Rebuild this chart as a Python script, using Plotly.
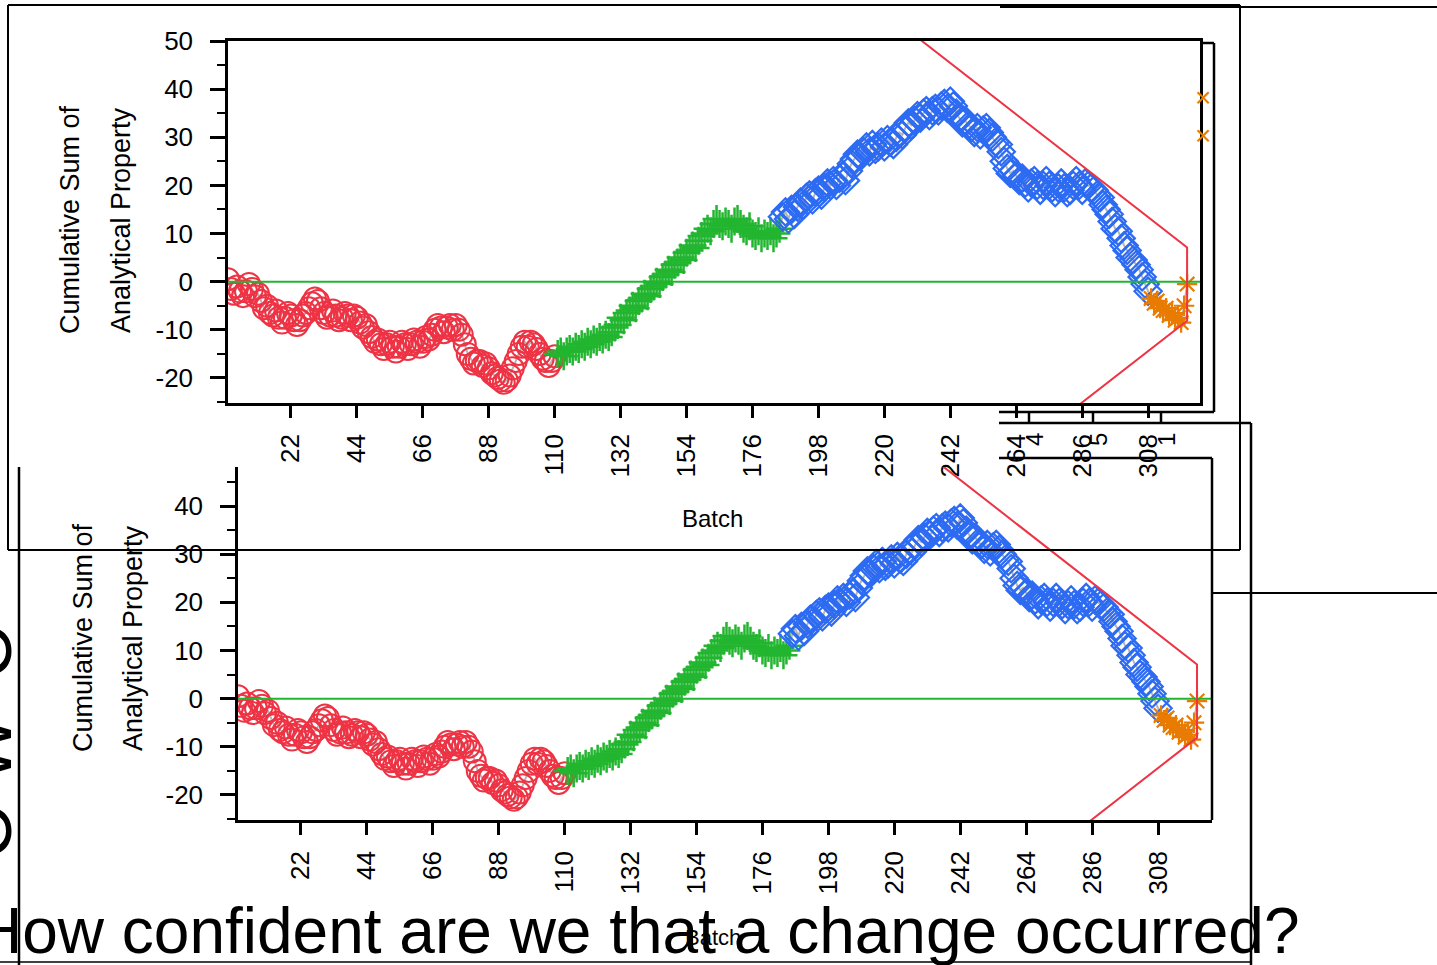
import plotly.graph_objects as go

W, H = 1437, 965
FONT = "Liberation Sans, Arial, sans-serif"

# ---------------- data ----------------
batch_red = list(range(1, 111))
cusum_red = [0.5, -1.5, -2.5, -1.0, -2.0, -3.0, -2.0, -0.5, -1.5, -3.0,
             -2.5, -4.0, -5.5, -5.0, -6.5, -7.0, -6.0, -7.5, -8.5, -7.5,
             -6.5, -7.0, -8.0, -9.0, -8.0, -7.0, -6.5, -5.5, -4.5, -3.5,
             -4.0, -5.5, -6.5, -7.5, -7.0, -6.0, -7.0, -8.0, -7.5, -6.5,
             -7.0, -8.0, -7.0, -7.5, -8.5, -9.5, -9.0, -10.5, -11.5, -12.5,
             -12.0, -13.0, -14.0, -13.0, -12.5, -13.5, -14.5, -13.5, -12.5, -13.0,
             -14.0, -13.0, -12.0, -12.5, -13.5, -12.5, -11.5, -12.0, -11.0, -10.0,
             -9.0, -9.5, -10.5, -9.5, -9.0, -10.0, -9.0, -10.0, -11.0, -13.0,
             -15.0, -16.0, -17.0, -16.5, -16.5, -17.5, -17.0, -18.0, -19.0, -19.5,
             -20.0, -20.5, -21.0, -20.5, -19.5, -18.0, -16.5, -15.0, -13.5, -12.5,
             -13.5, -12.5, -13.0, -14.0, -15.0, -16.0, -16.5, -17.5, -16.5, -15.5]

batch_green = list(range(111, 186))
cusum_green = [-15.0, -14.5, -15.5, -14.5, -14.0, -14.5, -13.5, -14.0, -13.0, -13.5,
               -12.5, -13.0, -12.0, -12.5, -11.5, -12.0, -11.0, -11.5, -10.5, -9.5,
               -9.0, -7.5, -8.0, -6.5, -6.0, -5.0, -5.5, -4.0, -3.5, -2.5,
               -3.0, -1.5, -1.0, 0.0, -0.5, 1.0, 1.5, 2.5, 2.0, 3.5,
               4.0, 5.0, 4.5, 6.0, 6.5, 7.5, 7.0, 8.5, 9.5, 10.0,
               11.0, 10.5, 12.0, 13.0, 12.0, 11.5, 12.5, 12.0, 11.0, 12.5,
               13.0, 12.0, 11.0, 10.5, 11.5, 10.0, 9.5, 10.5, 9.0, 10.0,
               9.5, 10.5, 9.0, 10.0, 11.0]

batch_blue = list(range(186, 309))
cusum_blue = [13.5, 14.5, 13.0, 15.0, 14.0, 15.5, 16.5, 16.0, 17.5, 18.0,
              17.0, 18.5, 19.0, 18.0, 19.5, 20.5, 20.0, 21.0, 20.0, 21.5,
              22.0, 21.0, 23.0, 24.5, 25.5, 26.5, 26.0, 27.0, 28.0, 27.0,
              28.5, 27.5, 28.0, 29.0, 28.0, 29.5, 29.0, 28.5, 30.0, 31.0,
              30.5, 32.0, 33.0, 32.5, 33.5, 34.5, 34.0, 35.0, 35.5, 34.5,
              35.5, 36.0, 35.5, 36.5, 37.0, 36.0, 37.5, 36.5, 35.0, 34.0,
              33.0, 33.5, 32.5, 32.0, 31.0, 32.0, 30.5, 31.5, 32.0, 31.0,
              30.0, 29.0, 28.5, 27.0, 25.0, 23.5, 22.5, 23.0, 22.0, 21.0,
              21.5, 20.5, 19.5, 20.5, 21.0, 20.0, 19.0, 20.0, 21.0, 20.0,
              19.5, 18.5, 19.5, 20.5, 19.5, 18.5, 19.0, 20.0, 21.0, 20.0,
              19.0, 20.5, 20.0, 19.5, 19.0, 18.0, 17.5, 16.0, 15.0, 14.0,
              12.5, 11.0, 10.5, 9.0, 7.5, 6.5, 5.0, 4.5, 3.5, 2.5,
              1.0, -0.5, -2.0]

batch_orange = list(range(309, 322))
cusum_orange = [-3.5, -4.5, -4.0, -5.5, -6.0, -5.5, -7.0, -6.5, -8.0, -7.5,
                -8.5, -5.0, -0.5]

target_value = 0.0
vmask_half_width = 7.6
vmask_slope = 0.485
vmask_reach = 200

x_tick_vals = [22, 44, 66, 88, 110, 132, 154, 176, 198, 220, 242, 264, 286, 308]
y_tick_vals_top = [-20, -10, 0, 10, 20, 30, 40, 50]
y_tick_vals_bottom = [-20, -10, 0, 10, 20, 30, 40]
y_minor_vals = [-25, -15, -5, 5, 15, 25, 35, 45]

question = "How confident are we that a change occurred?"
x_title = "Batch"
y_title_lines = ["Cumulative Sum of", "Analytical Property"]

# ---------------- colours ----------------
RED = "#EE3344"
GREEN = "#22B52F"
BLUE = "#2D6BF2"
ORANGE = "#E87B00"
GRAY = "#B5B5B5"


def px(x, y):
    return x / W, 1 - y / H


all_b = batch_red + batch_green + batch_blue + batch_orange
all_c = cusum_red + cusum_green + cusum_blue + cusum_orange
apex_b, apex_c = all_b[-1], all_c[-1]
mask_x = [apex_b - vmask_reach, apex_b, apex_b, apex_b - vmask_reach]
mask_y = [apex_c + vmask_half_width + vmask_slope * vmask_reach,
          apex_c + vmask_half_width,
          apex_c - vmask_half_width,
          apex_c - vmask_half_width - vmask_slope * vmask_reach]

fig = go.Figure()

for xa, ya, xr in [("x", "y", [1, 325.3]), ("x2", "y2", [1, 326])]:
    fig.add_trace(go.Scatter(x=all_b, y=all_c, mode="lines",
                             line=dict(color=GRAY, width=2), xaxis=xa, yaxis=ya,
                             showlegend=False, hoverinfo="skip"))
    fig.add_trace(go.Scatter(x=batch_red, y=cusum_red, mode="markers",
                             marker=dict(symbol="circle-open", size=22, color=RED,
                                         line=dict(width=2, color=RED)),
                             xaxis=xa, yaxis=ya, showlegend=False))
    fig.add_trace(go.Scatter(x=batch_green, y=cusum_green, mode="markers",
                             marker=dict(symbol="cross-thin-open", size=20, color=GREEN,
                                         line=dict(width=2.5, color=GREEN)),
                             xaxis=xa, yaxis=ya, showlegend=False))
    fig.add_trace(go.Scatter(x=batch_blue, y=cusum_blue, mode="markers",
                             marker=dict(symbol="diamond-open", size=21, color=BLUE,
                                         line=dict(width=2.2, color=BLUE)),
                             xaxis=xa, yaxis=ya, showlegend=False))
    fig.add_trace(go.Scatter(x=batch_orange, y=cusum_orange, mode="markers",
                             marker=dict(symbol="asterisk-open", size=17, color=ORANGE,
                                         line=dict(width=2.2, color=ORANGE)),
                             xaxis=xa, yaxis=ya, showlegend=False))
    fig.add_trace(go.Scatter(x=xr, y=[target_value, target_value], mode="lines",
                             line=dict(color=GREEN, width=2), xaxis=xa, yaxis=ya,
                             showlegend=False, hoverinfo="skip"))
    fig.add_trace(go.Scatter(x=mask_x, y=mask_y, mode="lines",
                             line=dict(color=RED, width=2), xaxis=xa, yaxis=ya,
                             showlegend=False, hoverinfo="skip"))

common_x = dict(showline=True, linecolor="black", linewidth=2.5, ticks="outside",
                tickcolor="black", tickwidth=2.5, ticklen=12, showgrid=False,
                zeroline=False, tickmode="array", tickvals=x_tick_vals,
                ticktext=[str(v) for v in x_tick_vals], tickangle=-90,
                tickfont=dict(size=26, color="black", family=FONT),
                ticklabelstandoff=6, automargin=False)
common_y = dict(showline=True, linecolor="black", linewidth=2.5, ticks="outside",
                tickcolor="black", tickwidth=2.5, ticklen=15, showgrid=False,
                zeroline=False, tickmode="array",
                tickfont=dict(size=26, color="black", family=FONT),
                minor=dict(tickmode="array", tickvals=y_minor_vals, ticks="outside",
                           ticklen=8, tickwidth=2, tickcolor="black"),
                ticklabelstandoff=12, automargin=False)

fig.update_layout(
    width=W, height=H, margin=dict(l=0, r=0, t=0, b=0, pad=0, autoexpand=False),
    paper_bgcolor="white", plot_bgcolor="rgba(0,0,0,0)",
    font=dict(family=FONT, color="black"),
    xaxis=dict(common_x, domain=[228 / W, 1200 / W], range=[1, 325.3], anchor="y",
               mirror=True),
    yaxis=dict(common_y, domain=[1 - 403 / H, 1 - 41 / H], range=[-25.2, 50],
               anchor="x", mirror=True, tickvals=y_tick_vals_top,
               ticktext=[str(v) for v in y_tick_vals_top]),
    xaxis2=dict(common_x, domain=[238 / W, 1212 / W], range=[1, 326], anchor="y2"),
    yaxis2=dict(common_y, domain=[1 - 820 / H, 1 - 467 / H], range=[-25.2, 48.1],
                anchor="x2", tickvals=y_tick_vals_bottom,
                ticktext=[str(v) for v in y_tick_vals_bottom]),
)

# frame / overlap lines of the slide
segments = [
    (8, 5, 1240, 5, 2), (1240, 5, 1240, 550, 2), (1240, 550, 8, 550, 2), (8, 550, 8, 5, 2),
    (1000, 7, 1437, 7, 2),
    (1200, 43, 1214, 43, 2.5), (1214, 43, 1214, 412, 2.5), (999, 412, 1214, 412, 2.5),
    (1029, 412, 1029, 423, 2.5), (1093, 412, 1093, 423, 2.5), (1161, 412, 1161, 423, 2.5),
    (999, 423, 1251, 423, 2.5), (1251, 423, 1251, 965, 2.5),
    (999, 458, 1212, 458, 2.5), (1212, 458, 1212, 820, 2.5),
    (1212, 593, 1437, 593, 2),
    (19, 467, 19, 965, 2.5),
    (0, 962, 1251, 962, 1.5),
]
for x0, y0, x1, y1, w in segments:
    a0, b0 = px(x0, y0)
    a1, b1 = px(x1, y1)
    fig.add_shape(type="line", xref="paper", yref="paper", x0=a0, y0=b0, x1=a1, y1=b1,
                  line=dict(color="black", width=w))

anns = []


def ann(x, y, text, size, angle=0, xanchor="center", color="black"):
    ax, ay = px(x, y)
    anns.append(dict(x=ax, y=ay, xref="paper", yref="paper", text=text, showarrow=False,
                     textangle=angle, xanchor=xanchor, yanchor="middle",
                     font=dict(size=size, color=color, family=FONT)))


ann(712, 518, x_title, 24)
ann(713, 937, x_title, 22)
ann(70, 220, y_title_lines[0], 27, -90)
ann(121, 220, y_title_lines[1], 27, -90)
ann(83, 638, y_title_lines[0], 27, -90)
ann(133, 638, y_title_lines[1], 27, -90)
ann(-14, 651, "O", 72, -90)
ann(-14, 749, "W", 72, -90)
ann(-14, 831, "O", 72, -90)
ann(1034, 440, "4", 24, -90)
ann(1098, 440, "5", 24, -90)
ann(1166, 440, "1", 24, -90)
ann(1203, 97, "×", 28, color=ORANGE)
ann(1203, 135, "×", 28, color=ORANGE)
ann(-26, 931, question, 64, xanchor="left")

fig.update_layout(annotations=anns)

fig.write_html("out.html")
